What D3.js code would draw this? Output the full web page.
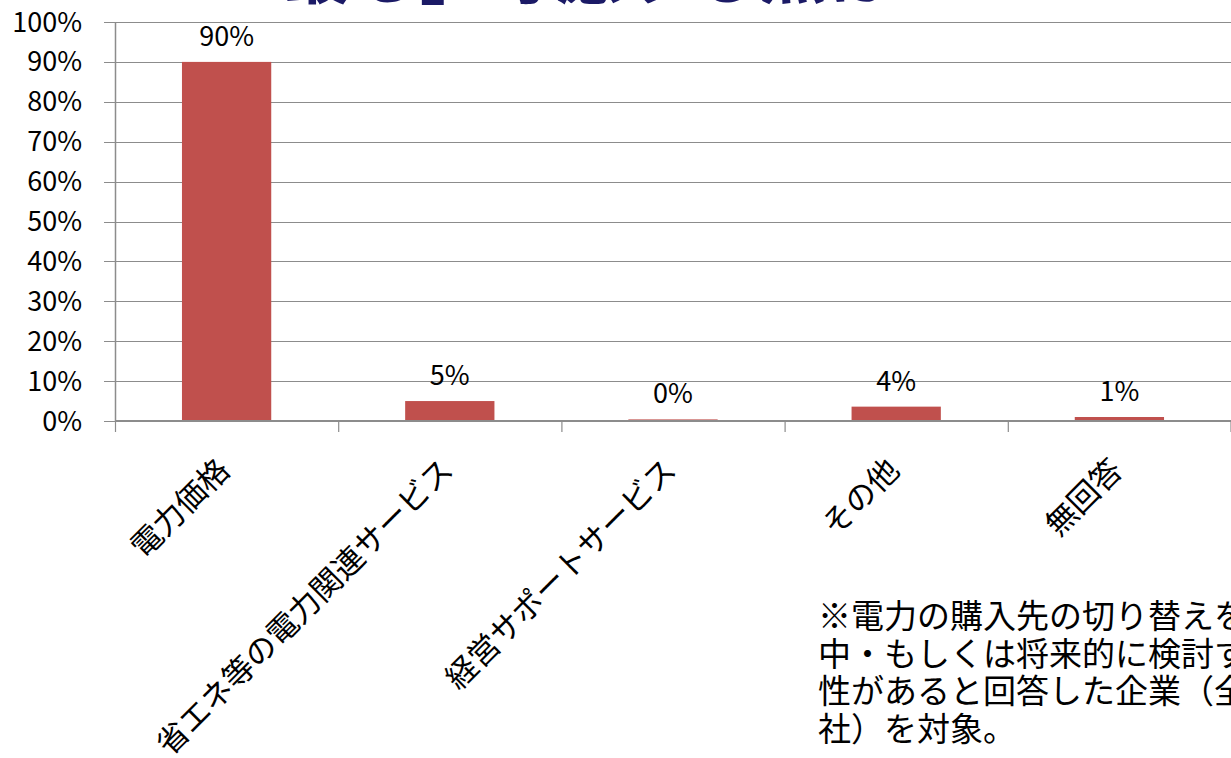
<!DOCTYPE html>
<html lang="ja">
<head>
<meta charset="utf-8">
<script src="https://cdn.jsdelivr.net/npm/d3@7"></script>
<style>
  html, body { margin: 0; padding: 0; background: #fff; overflow: hidden; }
  svg { display: block; font-family: "Noto Sans CJK JP", "Noto Sans", sans-serif; }
</style>
</head>
<body>
<svg id="chart" width="1231" height="758"></svg>
<script>
// Survey answers: the single most important factor when switching supplier
const categories = ["電力価格", "省エネ等の電力関連サービス", "経営サポートサービス", "その他", "無回答"];
const shares = [0.90, 0.05, 0.004, 0.036, 0.01];
const yTicks = [0, 0.1, 0.2, 0.3, 0.4, 0.5, 0.6, 0.7, 0.8, 0.9, 1.0];
const titleText = "「最も」考慮する点は？";
const noteLines = [
  "※電力の購入先の切り替えを",
  "中・もしくは将来的に検討する",
  "性があると回答した企業（全",
  "社）を対象。"
];

const svg = d3.select("#chart");
const plot = { left: 115, right: 1231, top: 22, bottom: 421 };

const x = d3.scaleBand()
  .domain(categories)
  .range([plot.left, plot.right])
  .paddingInner(0.6)
  .paddingOuter(0.3);

const y = d3.scaleLinear().domain([0, 1]).range([plot.bottom, plot.top]);
const pct = d3.format(".0%");

// Heading (runs off the top edge)
svg.append("text")
  .attr("x", 216)
  .attr("y", -2)
  .attr("font-size", 66)
  .attr("font-weight", 700)
  .attr("letter-spacing", 2)
  .attr("fill", "#1b1a66")
  .text(titleText);

// Horizontal gridlines with outside tick stubs
svg.append("g")
  .selectAll("line")
  .data(yTicks)
  .join("line")
  .attr("x1", plot.left - 11)
  .attr("x2", plot.right)
  .attr("y1", d => Math.round(y(d)) + 0.5)
  .attr("y2", d => Math.round(y(d)) + 0.5)
  .attr("stroke", "#8c8c8c")
  .attr("stroke-width", 1.2);

// Y axis labels
svg.append("g")
  .selectAll("text")
  .data(yTicks)
  .join("text")
  .attr("x", 82)
  .attr("y", d => y(d) + 9.5)
  .attr("text-anchor", "end")
  .attr("font-size", 27)
  .attr("fill", "#000")
  .text(d => pct(d));

// Y axis line
svg.append("line")
  .attr("x1", plot.left + 0.5).attr("x2", plot.left + 0.5)
  .attr("y1", plot.top).attr("y2", plot.bottom)
  .attr("stroke", "#8c8c8c").attr("stroke-width", 1.5);

// Bars
svg.append("g")
  .selectAll("rect")
  .data(categories)
  .join("rect")
  .attr("x", d => x(d))
  .attr("width", x.bandwidth())
  .attr("y", (d, i) => y(shares[i]))
  .attr("height", (d, i) => y(0) - y(shares[i]))
  .attr("fill", "#c0504d");

// Value labels
svg.append("g")
  .selectAll("text")
  .data(categories)
  .join("text")
  .attr("x", d => x(d) + x.bandwidth() / 2)
  .attr("y", (d, i) => y(shares[i]) - 16)
  .attr("text-anchor", "middle")
  .attr("font-size", 27)
  .attr("fill", "#000")
  .text((d, i) => pct(shares[i]));

// X axis line and category separators
svg.append("line")
  .attr("x1", plot.left).attr("x2", plot.right)
  .attr("y1", plot.bottom).attr("y2", plot.bottom)
  .attr("stroke", "#8c8c8c").attr("stroke-width", 2);

const bounds = categories.map(c => x(c) + x.bandwidth() / 2 - x.step() / 2)
  .concat([plot.right - 0.5]);
svg.append("g")
  .selectAll("line")
  .data(bounds)
  .join("line")
  .attr("x1", d => d + 0.5).attr("x2", d => d + 0.5)
  .attr("y1", plot.bottom).attr("y2", plot.bottom + 11)
  .attr("stroke", "#8c8c8c").attr("stroke-width", 1.2);

// Rotated category labels
svg.append("g")
  .selectAll("text")
  .data(categories)
  .join("text")
  .attr("transform", d => `translate(${x(d) + x.bandwidth() / 2 + 5},472) rotate(-45)`)
  .attr("text-anchor", "end")
  .attr("font-size", 31)
  .attr("fill", "#000")
  .text(d => d);

// Footnote
svg.append("text")
  .attr("x", 818)
  .attr("y", 628)
  .attr("font-size", 33)
  .attr("fill", "#000")
  .selectAll("tspan")
  .data(noteLines)
  .join("tspan")
  .attr("x", 818)
  .attr("dy", (d, i) => i === 0 ? 0 : 37.5)
  .text(d => d);
</script>
</body>
</html>
